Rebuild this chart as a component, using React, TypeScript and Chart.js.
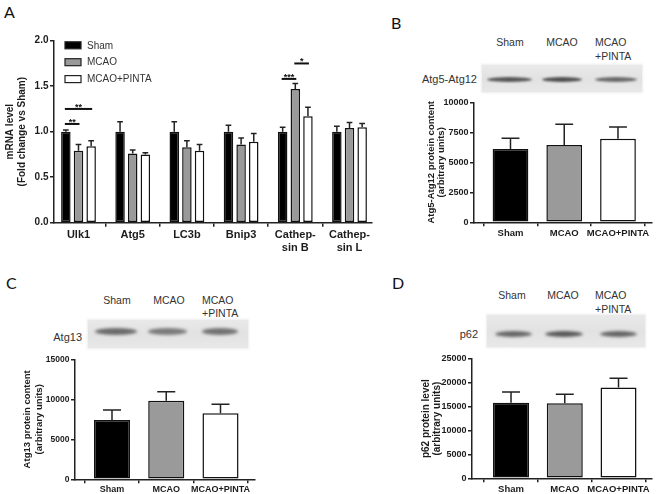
import React, { useEffect, useRef } from "react";
import { Chart, registerables } from "chart.js";
Chart.register(...registerables);

const FONT = "'Liberation Sans', Arial, sans-serif";
Chart.defaults.font.family = FONT;

// ---------- data ----------
const GROUPS = ["Sham", "MCAO", "MCAO+PINTA"];
const GENES: (string | string[])[] = ["Ulk1", "Atg5", "LC3b", "Bnip3", ["Cathep-", "sin B"], ["Cathep-", "sin L"]];
const MRNA_SHAM = [1.0, 1.0, 1.0, 1.0, 1.0, 1.0];
const MRNA_SHAM_SEM = [0.02, 0.11, 0.11, 0.07, 0.05, 0.06];
const MRNA_MCAO = [0.79, 0.76, 0.83, 0.86, 1.47, 1.04];
const MRNA_MCAO_SEM = [0.07, 0.04, 0.07, 0.07, 0.06, 0.06];
const MRNA_PINTA = [0.84, 0.75, 0.79, 0.89, 1.17, 1.05];
const MRNA_PINTA_SEM = [0.06, 0.02, 0.07, 0.09, 0.1, 0.04];

const SIG_GENE = [0, 0, 4, 4];
const SIG_FROM = [0, 0, 0, 1];
const SIG_TO = [1, 2, 1, 2];
const SIG_Y = [1.085, 1.25, 1.58, 1.75];
const SIG_TEXT = ["**", "**", "***", "*"];

const ATG5_12 = [6110, 6440, 6970];
const ATG5_12_SEM = [890, 1730, 970];
const ATG13 = [7410, 9830, 8250];
const ATG13_SEM = [1250, 1100, 1120];
const P62 = [15840, 15710, 19030];
const P62_SEM = [2250, 1900, 1950];

const BLOT_LANES = ["Sham", "MCAO", "MCAO", "+PINTA"];

// ---------- styles ----------
const INK = "#1c1c1c";
const BAR_FILLS = ["#000000", "#9a9a9a", "#ffffff"];
const BAR_EDGE = "#111111";

function errorPlugin(errs: number[][], capRatio: number) {
  return {
    id: "errorBars",
    afterDatasetsDraw(chart: any) {
      const ctx = chart.ctx;
      const ys = chart.scales.y;
      ctx.save();
      ctx.strokeStyle = "#222";
      ctx.lineWidth = 1.5;
      errs.forEach((arr, di) => {
        const meta = chart.getDatasetMeta(di);
        meta.data.forEach((el: any, i: number) => {
          const raw = chart.data.datasets[di].data[i];
          const v = typeof raw === "object" ? raw.y : raw;
          const top = ys.getPixelForValue(v + arr[i]);
          const half = (el.width * capRatio) / 2;
          ctx.beginPath();
          ctx.moveTo(el.x, el.y);
          ctx.lineTo(el.x, top);
          ctx.moveTo(el.x - half, top);
          ctx.lineTo(el.x + half, top);
          ctx.stroke();
        });
      });
      ctx.restore();
    },
  };
}

const sigPlugin = {
  id: "sig",
  afterDatasetsDraw(chart: any) {
    const ctx = chart.ctx;
    const ys = chart.scales.y;
    ctx.save();
    ctx.strokeStyle = "#111";
    ctx.fillStyle = "#111";
    ctx.lineWidth = 2;
    ctx.font = `bold 9px ${FONT}`;
    ctx.textAlign = "center";
    ctx.textBaseline = "alphabetic";
    SIG_TEXT.forEach((t, k) => {
      const a = chart.getDatasetMeta(SIG_FROM[k]).data[SIG_GENE[k]];
      const b = chart.getDatasetMeta(SIG_TO[k]).data[SIG_GENE[k]];
      const y = ys.getPixelForValue(SIG_Y[k]);
      ctx.beginPath();
      ctx.moveTo(a.x - 1, y);
      ctx.lineTo(b.x + 1, y);
      ctx.stroke();
      ctx.fillText(t, (a.x + b.x) / 2, y + 1);
    });
    ctx.restore();
  },
};

const legendPlugin = {
  id: "innerLegend",
  afterDraw(chart: any) {
    const ctx = chart.ctx;
    const { left, top } = chart.chartArea;
    ctx.save();
    ctx.font = `10px ${FONT}`;
    ctx.textBaseline = "middle";
    chart.data.datasets.forEach((ds: any, i: number) => {
      const cy = top + 4.6 + i * 16.9;
      ctx.fillStyle = ds.backgroundColor;
      ctx.fillRect(left + 11, cy - 3.5, 16, 7);
      ctx.strokeStyle = "#222";
      ctx.lineWidth = 1.2;
      ctx.strokeRect(left + 11, cy - 3.5, 16, 7);
      ctx.fillStyle = "#333";
      ctx.fillText(ds.label, left + 33, cy + 0.5);
    });
    ctx.restore();
  },
};

type Spec = {
  box: { left: number; top: number; width: number; height: number };
  pad: { top: number; right: number; bottom: number; left: number };
  yWidth: number;
  xHeight: number;
  labels: (string | string[])[];
  datasets: { label: string; data: number[]; color: string | string[] }[];
  errors: number[][];
  xMin: number;
  xMax: number;
  yMax: number;
  yStep: number;
  yDec: number;
  yTitle: string[];
  titleSize: number;
  titleLH: number;
  titlePad: number;
  tickSize: number;
  xTickSize: number;
  xTickLH: number;
  catPct: number;
  barPct: number;
  capRatio: number;
  extra?: any[];
};

function buildConfig(s: Spec): any {
  return {
    type: "bar",
    data: {
      datasets: s.datasets.map((d) => ({
        label: d.label,
        data: d.data.map((v, i) => ({ x: i, y: v })),
        backgroundColor: d.color,
        borderColor: BAR_EDGE,
        borderWidth: 1.5,
        borderSkipped: false,
        categoryPercentage: s.catPct,
        barPercentage: s.barPct,
      })),
    },
    options: {
      responsive: false,
      animation: false,
      devicePixelRatio: 1,
      events: [],
      layout: { padding: s.pad },
      plugins: { legend: { display: false }, tooltip: { enabled: false }, title: { display: false } },
      scales: {
        x: {
          type: "linear",
          min: s.xMin,
          max: s.xMax,
          offset: false,
          afterBuildTicks: (sc: any) => {
            sc.ticks = s.labels.map((_, i) => ({ value: i }));
          },
          afterFit: (sc: any) => {
            sc.height = s.xHeight;
          },
          ticks: {
            callback: (v: number) => s.labels[v],
            autoSkip: false,
            maxRotation: 0,
            padding: 1,
            color: INK,
            font: { size: s.xTickSize, weight: "bold", lineHeight: s.xTickLH },
          },
          grid: { drawOnChartArea: false, tickLength: 4, color: "#222", lineWidth: 1.5 },
          border: { display: true, color: "#222", width: 1.5 },
        },
        y: {
          min: 0,
          max: s.yMax,
          afterFit: (sc: any) => {
            sc.width = s.yWidth;
          },
          ticks: {
            stepSize: s.yStep,
            padding: 1.5,
            color: INK,
            font: { size: s.tickSize, weight: "bold" },
            callback: (v: number) => v.toFixed(s.yDec),
          },
          title: {
            display: true,
            text: s.yTitle,
            color: INK,
            font: { size: s.titleSize, weight: "bold", lineHeight: s.titleLH },
            padding: { top: s.titlePad, bottom: 0 },
          },
          grid: { drawOnChartArea: false, tickLength: 4, color: "#222", lineWidth: 1.5 },
          border: { display: true, color: "#222", width: 1.5 },
        },
      },
    },
    plugins: [errorPlugin(s.errors, s.capRatio), ...(s.extra || [])],
  };
}

const SPEC_A: Spec = {
  box: { left: 0, top: 28, width: 380, height: 240 },
  pad: { top: 12.7, right: 8, bottom: 0, left: 0 },
  yWidth: 54,
  xHeight: 45.3,
  labels: GENES,
  datasets: [
    { label: GROUPS[0], data: MRNA_SHAM, color: BAR_FILLS[0] },
    { label: GROUPS[1], data: MRNA_MCAO, color: BAR_FILLS[1] },
    { label: GROUPS[2], data: MRNA_PINTA, color: BAR_FILLS[2] },
  ],
  errors: [MRNA_SHAM_SEM, MRNA_MCAO_SEM, MRNA_PINTA_SEM],
  xMin: -0.452,
  xMax: 5.415,
  yMax: 2,
  yStep: 0.5,
  yDec: 1,
  yTitle: ["mRNA level", "(Fold change vs Sham)"],
  titleSize: 10,
  titleLH: 1.2,
  titlePad: 4,
  tickSize: 10,
  xTickSize: 11,
  xTickLH: 1.25,
  catPct: 0.7,
  barPct: 0.75,
  capRatio: 0.6,
  extra: [sigPlugin, legendPlugin],
};

const SPEC_B: Spec = {
  box: { left: 424, top: 90, width: 236, height: 160 },
  pad: { top: 12.3, right: 8, bottom: 0, left: 0 },
  yWidth: 50,
  xHeight: 27.7,
  labels: GROUPS,
  datasets: [{ label: "Atg5-Atg12", data: ATG5_12, color: BAR_FILLS }],
  errors: [ATG5_12_SEM],
  xMin: -0.679,
  xMax: 2.633,
  yMax: 10000,
  yStep: 2500,
  yDec: 0,
  yTitle: ["Atg5-Atg12 protein content", "(arbitrary units)"],
  titleSize: 9.5,
  titleLH: 1.0,
  titlePad: 3,
  tickSize: 9,
  xTickSize: 9.5,
  xTickLH: 1.2,
  catPct: 1,
  barPct: 0.665,
  capRatio: 0.5,
};

const SPEC_C: Spec = {
  box: { left: 20, top: 347, width: 245, height: 147 },
  pad: { top: 12.3, right: 10, bottom: 0, left: 0 },
  yWidth: 55,
  xHeight: 14.7,
  labels: GROUPS,
  datasets: [{ label: "Atg13", data: ATG13, color: BAR_FILLS }],
  errors: [ATG13_SEM],
  xMin: -0.682,
  xMax: 2.636,
  yMax: 15000,
  yStep: 5000,
  yDec: 0,
  yTitle: ["Atg13 protein content", "(arbitrary units)"],
  titleSize: 9.5,
  titleLH: 1.2,
  titlePad: 2,
  tickSize: 8.5,
  xTickSize: 9,
  xTickLH: 1.2,
  catPct: 1,
  barPct: 0.665,
  capRatio: 0.5,
};

const SPEC_D: Spec = {
  box: { left: 416, top: 347, width: 244, height: 147 },
  pad: { top: 12, right: 8, bottom: 0, left: 0 },
  yWidth: 56,
  xHeight: 15.7,
  labels: GROUPS,
  datasets: [{ label: "p62", data: P62, color: BAR_FILLS }],
  errors: [P62_SEM],
  xMin: -0.726,
  xMax: 2.623,
  yMax: 25000,
  yStep: 5000,
  yDec: 0,
  yTitle: ["p62 protein level", "(arbitrary units)"],
  titleSize: 10,
  titleLH: 1.1,
  titlePad: 4.5,
  tickSize: 9,
  xTickSize: 9.5,
  xTickLH: 1.2,
  catPct: 1,
  barPct: 0.67,
  capRatio: 0.5,
};

function BarPanel({ spec }: { spec: Spec }) {
  const ref = useRef<HTMLCanvasElement>(null);
  useEffect(() => {
    const chart = new Chart(ref.current as HTMLCanvasElement, buildConfig(spec));
    return () => chart.destroy();
  }, [spec]);
  const { left, top, width, height } = spec.box;
  return (
    <canvas
      ref={ref}
      width={width}
      height={height}
      style={{ position: "absolute", left, top, width, height }}
    />
  );
}

function Txt({
  x,
  y,
  text,
  size,
  align = "left",
  color = "#333",
  family = FONT,
  weight = "normal",
}: any) {
  const tx = align === "center" ? "translateX(-50%)" : align === "right" ? "translateX(-100%)" : "none";
  return (
    <div
      style={{
        position: "absolute",
        left: x,
        top: y - size * 0.6,
        fontSize: size,
        lineHeight: `${size * 1.2}px`,
        fontFamily: family,
        fontWeight: weight,
        color,
        whiteSpace: "nowrap",
        transform: tx,
      }}
    >
      {text}
    </div>
  );
}

function Blot({
  box,
  bands,
  bandY,
  thick,
  shades,
  blur,
}: {
  box: { left: number; top: number; w: number; h: number };
  bands: number[][];
  bandY: number;
  thick: number;
  shades: string[];
  blur: number;
}) {
  return (
    <div
      style={{
        position: "absolute",
        left: box.left,
        top: box.top,
        width: box.w,
        height: box.h,
        background: "linear-gradient(180deg, #e9e9e9 0%, #e2e2e2 50%, #e8e8e8 100%)",
        boxShadow: "0 0 2px 1px #ededed",
        overflow: "hidden",
      }}
    >
      {bands.map(([x0, x1], i) => (
        <div
          key={i}
          style={{
            position: "absolute",
            left: x0 - box.left,
            top: bandY - box.top - thick / 2,
            width: x1 - x0,
            height: thick,
            background: `radial-gradient(ellipse at center, ${shades[i]} 0%, ${shades[i]} 55%, rgba(120,120,120,0.6) 100%)`,
            borderRadius: "50%",
            filter: `blur(${blur}px)`,
          }}
        />
      ))}
    </div>
  );
}

function Headers({ sham, mcao, pinta, y, dy }: any) {
  return (
    <>
      <Txt x={sham} y={y} text={BLOT_LANES[0]} size={10.5} align="center" />
      <Txt x={mcao} y={y} text={BLOT_LANES[1]} size={10.5} align="center" />
      <Txt x={pinta} y={y} text={BLOT_LANES[2]} size={10.5} />
      <Txt x={pinta} y={y + dy} text={BLOT_LANES[3]} size={10.5} />
    </>
  );
}

const LETTER_FONT = "Lato, 'Open Sans', sans-serif";

export default function App() {
  return (
    <div
      style={{
        position: "fixed",
        left: 0,
        top: 0,
        width: 660,
        height: 494,
        background: "#fff",
        overflow: "hidden",
      }}
    >
      <Txt x={4} y={12} text="A" size={16} family={LETTER_FONT} color="#111" />
      <Txt x={391} y={23} text="B" size={16} family={LETTER_FONT} color="#111" />
      <Txt x={6} y={283} text="C" size={16} family={LETTER_FONT} color="#111" />
      <Txt x={392} y={283} text="D" size={16} family={LETTER_FONT} color="#111" />

      <BarPanel spec={SPEC_A} />

      {/* B */}
      <Headers sham={510} mcao={562} pinta={595} y={42} dy={14} />
      <Blot
        box={{ left: 482, top: 65, w: 160, h: 27 }}
        bands={[
          [487, 532],
          [542, 582],
          [595, 637],
        ]}
        bandY={79}
        thick={5}
        shades={["#575757", "#505050", "#6a6a6a"]}
        blur={1.2}
      />
      <Txt x={477} y={80} text="Atg5-Atg12" size={11} align="right" />
      <BarPanel spec={SPEC_B} />

      {/* C */}
      <Headers sham={117} mcao={169} pinta={202} y={300} dy={13.5} />
      <Blot
        box={{ left: 88, top: 320, w: 160, h: 28 }}
        bands={[
          [95, 137],
          [148, 187],
          [202, 238],
        ]}
        bandY={331.5}
        thick={6.5}
        shades={["#6a6a6a", "#7a7a7a", "#727272"]}
        blur={1.6}
      />
      <Txt x={82} y={338} text="Atg13" size={11} align="right" />
      <BarPanel spec={SPEC_C} />

      {/* D */}
      <Headers sham={512} mcao={563} pinta={595} y={295} dy={14} />
      <Blot
        box={{ left: 487, top: 315, w: 158, h: 32 }}
        bands={[
          [495, 532],
          [545, 583],
          [600, 637],
        ]}
        bandY={334}
        thick={6}
        shades={["#666666", "#585858", "#646464"]}
        blur={1.4}
      />
      <Txt x={478} y={335} text="p62" size={11} align="right" />
      <BarPanel spec={SPEC_D} />
    </div>
  );
}
